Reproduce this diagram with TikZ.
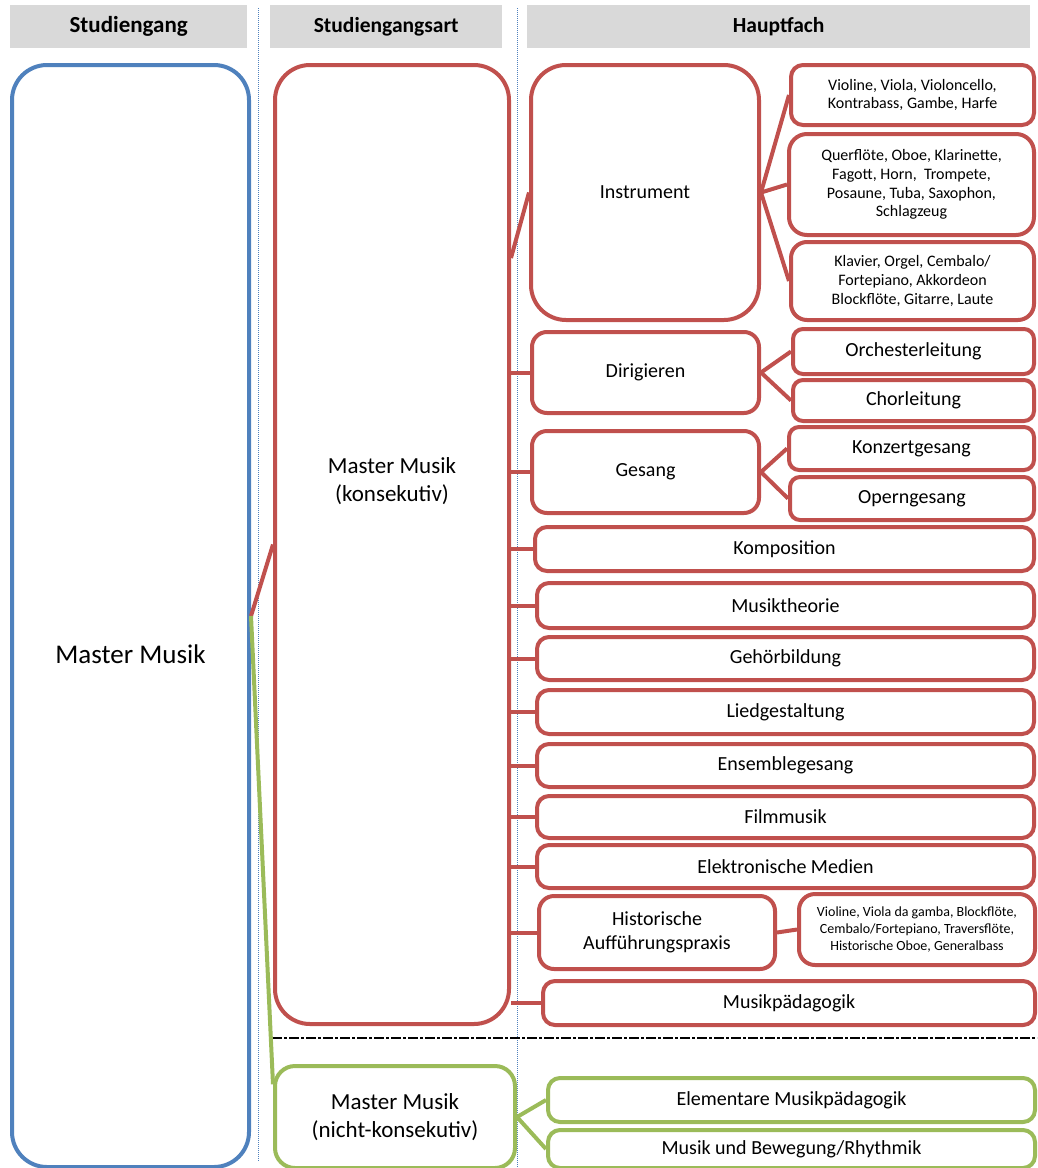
\documentclass[tikz,border=0pt]{standalone}
\usepackage{fontspec}
\setmainfont{Carlito}
\usetikzlibrary{scopes}

\definecolor{blau}{RGB}{79,129,189}
\definecolor{rot}{RGB}{192,80,77}
\definecolor{gruen}{RGB}{155,187,89}
\definecolor{grau}{RGB}{217,217,217}

\tikzset{
    kopf/.style={fill=grau, anchor=north west, inner sep=0pt,
        font=\fontsize{21.5}{26}\selectfont\bfseries},
    kasten/.style={draw, line width=4pt, fill=white, text=black, anchor=north west,
        align=center, inner sep=0pt, rounded corners=12pt,
        font=\fontsize{20}{24}\selectfont},
    klein/.style={font=\fontsize{16}{18.7}\selectfont},
    winzig/.style={font=\fontsize{14}{16.7}\selectfont},
    gross/.style={rounded corners=35pt},
    mass/.style 2 args={minimum width=#1pt, minimum height=#2pt},
    linie/.style={line width=4pt},
    trenner/.style={blau, line width=1pt, densely dotted}
}

\begin{document}
\begin{tikzpicture}[x=1pt, y=-1pt]
        \useasboundingbox (0,0) rectangle (1037,1168);

        \node[kopf, mass={237}{43}, font=\fontsize{23}{27}\selectfont\bfseries] (kopfA) at (10,5) {Studiengang};
        \node[kopf, mass={232}{43}] (kopfB) at (270,5) {Studiengangsart};
        \node[kopf, mass={503}{43}] (kopfC) at (527,5) {Hauptfach};

        \draw[trenner] (258,8) -- (258,1162);
        \draw[trenner] (517,8) -- (517,1168);
        \draw[line width=1.5pt, dash pattern=on 10pt off 2pt on 3pt off 2pt] (272,1038) -- (1037,1038);

        { [blau]
            \node[kasten, gross, mass={237}{1102}] (mm) at (10,63) {};
            \node[text=black, font=\fontsize{27}{32}\selectfont] (mmText) at ([yshift=-38pt]mm.center) {Master Musik};
        }
        { [rot]
            \node[kasten, gross, mass={234}{959}] (konsek) at (273,63) {};
            \node[text=black, align=center, font=\fontsize{23}{28}\selectfont] (konsekText) at ([yshift=63pt]konsek.center) {Master Musik\\(konsekutiv)};
            \node[kasten, gross, mass={228}{255}] (instr) at (529,63) {Instrument};
            \node[kasten, klein, mass={243}{60}] (vioA) at (789,63) {Violine, Viola, Violoncello,\\Kontrabass, Gambe, Harfe};
            \node[kasten, klein, mass={245}{101}, rounded corners=18pt] (quer) at (787,132) {Querflöte, Oboe, Klarinette,\\Fagott, Horn,\ \ Trompete,\\Posaune, Tuba, Saxophon,\\Schlagzeug};
            \node[kasten, klein, mass={243}{78}, rounded corners=16pt] (klav) at (789,240) {Klavier, Orgel, Cembalo/\\Fortepiano, Akkordeon\\Blockflöte, Gitarre, Laute};
            \node[kasten, mass={227}{81}, rounded corners=15pt] (dir) at (530,330) {Dirigieren};
            \node[kasten, mass={241}{45}, rounded corners=10pt] (orch) at (791,327) {Orchesterleitung};
            \node[kasten, mass={241}{41}, rounded corners=10pt] (chor) at (791,378) {Chorleitung};
            \node[kasten, mass={227}{82}, rounded corners=15pt] (ges) at (530,429) {Gesang};
            \node[kasten, mass={245}{43}, rounded corners=10pt] (konz) at (787,425) {Konzertgesang};
            \node[kasten, mass={244}{43}, rounded corners=10pt] (oper) at (788,475) {Operngesang};
            \node[kasten, mass={499}{44}] (komp) at (533,525) {Komposition};
            \node[kasten, mass={497}{45}] (theo) at (535,581) {Musiktheorie};
            \node[kasten, mass={497}{43}] (gehoer) at (535,635) {Gehörbildung};
            \node[kasten, mass={497}{44}] (lied) at (535,688) {Liedgestaltung};
            \node[kasten, mass={497}{43}] (ens) at (535,742) {Ensemblegesang};
            \node[kasten, mass={497}{42}] (film) at (535,794) {Filmmusik};
            \node[kasten, mass={497}{43}] (elek) at (535,843) {Elektronische Medien};
            \node[kasten, mass={236}{73}, rounded corners=15pt] (hist) at (537,894) {Historische\\Aufführungspraxis};
            \node[kasten, winzig, mass={236}{71}, rounded corners=16pt] (vioB) at (797,892) {Violine, Viola da gamba, Blockflöte,\\Cembalo/Fortepiano, Traversflöte,\\Historische Oboe, Generalbass};
            \node[kasten, mass={492}{44}] (paed) at (541,979) {Musikpädagogik};

            \coordinate (abzweig) at (konsek.east |- 0,258);
            \draw[linie] (mm.east) -- (konsek.west);
            \draw[linie] (abzweig) -- (instr.west);
            \draw[linie] (instr.east) -- (vioA.west);
            \draw[linie] (instr.east) -- (quer.west);
            \draw[linie] (instr.east) -- (klav.west);
            \draw[linie] (dir.east) -- (orch.west);
            \draw[linie] (dir.east) -- (chor.west);
            \draw[linie] (ges.east) -- (konz.west);
            \draw[linie] (ges.east) -- (oper.west);
            \draw[linie] (hist.east) -- (vioB.west);
            \foreach \ziel in {dir,ges,komp,theo,gehoer,lied,ens,film,elek,hist,paed}
                \draw[linie] (konsek.east |- \ziel.west) -- (\ziel.west);
        }
        { [gruen]
            \node[kasten, mass={240}{102}, rounded corners=20pt, font=\fontsize{23}{28}\selectfont] (nk) at (273,1064) {Master Musik\\(nicht-konsekutiv)};
            \node[kasten, mass={487}{44}] (elem) at (546,1076) {Elementare Musikpädagogik};
            \node[kasten, mass={487}{38}] (rhyth) at (546,1128) {Musik und Bewegung/Rhythmik};

            \draw[linie] (mm.east) -- (nk.165);
            \draw[linie] (nk.east) -- (elem.west);
            \draw[linie] (nk.east) -- (rhyth.west);
        }
\end{tikzpicture}
\end{document}
